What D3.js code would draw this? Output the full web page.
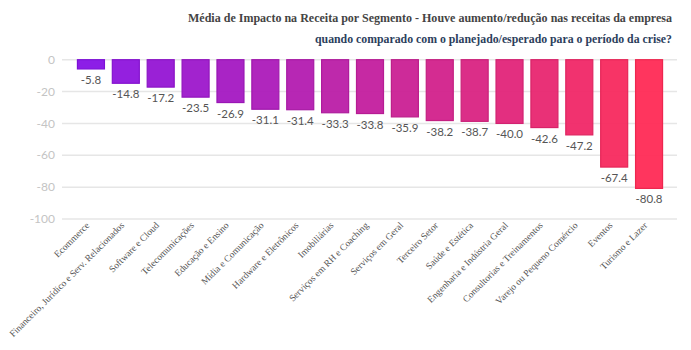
<!DOCTYPE html>
<meta charset="utf-8">
<script src="https://d3js.org/d3.v7.min.js"></script>
<style>
  body { margin: 0; background: #fff; }
</style>
<div id="my_dataviz"></div>
<script>

// data
var categories = ["Ecommerce", "Financeiro, Jurídico e Serv. Relacionados", "Software e Cloud",
  "Telecomunicações", "Educação e Ensino", "Mídia e Comunicação", "Hardware e Eletrônicos",
  "Imobiliárias", "Serviços em RH e Coaching", "Serviços em Geral", "Terceiro Setor",
  "Saúde e Estética", "Engenharia e Indústria Geral", "Consultorias e Treinamentos",
  "Varejo ou Pequeno Comércio", "Eventos", "Turismo e Lazer"];
var values = [-5.8, -14.8, -17.2, -23.5, -26.9, -31.1, -31.4, -33.3, -33.8, -35.9,
  -38.2, -38.7, -40.0, -42.6, -47.2, -67.4, -80.8];
var yTicks = [0, -20, -40, -60, -80, -100];
var titleLines = ["Média de Impacto na Receita por Segmento - Houve aumento/redução nas receitas da empresa",
  "quando comparado com o planejado/esperado para o período da crise?"];

var width = 691, height = 350;

var svg = d3.select("#my_dataviz")
  .append("svg")
    .attr("width", width)
    .attr("height", height);

// scales
var x = d3.scaleBand()
  .domain(categories)
  .range([73.5, 666.5])
  .paddingInner(0.226)
  .paddingOuter(0.113);

var y = d3.scaleLinear()
  .domain([-100, 0])
  .range([219, 59.7]);

var color = d3.scaleLinear()
  .domain([0, categories.length - 1])
  .range(["#8612e6", "#ff2a55"])
  .interpolate(d3.interpolateRgb);

// grid lines
svg.append("g")
  .selectAll("line")
  .data(yTicks)
  .enter()
  .append("line")
    .attr("x1", 62)
    .attr("x2", 677)
    .attr("y1", function(d) { return y(d); })
    .attr("y2", function(d) { return y(d); })
    .style("stroke", "#e6e6e6")
    .style("stroke-width", 1.5);

// y tick labels
svg.append("g")
  .selectAll("text")
  .data(yTicks)
  .enter()
  .append("text")
    .attr("x", 55)
    .attr("y", function(d) { return y(d); })
    .attr("dy", "0.35em")
    .attr("text-anchor", "end")
    .style("font-family", "Lato, 'Open Sans', sans-serif")
    .style("font-size", "12px")
    .style("fill", "#c4c4c4")
    .text(function(d) { return d; });

// bars
svg.append("g")
  .selectAll("rect")
  .data(values)
  .enter()
  .append("rect")
    .attr("x", function(d, i) { return x(categories[i]); })
    .attr("y", y(0))
    .attr("width", x.bandwidth())
    .attr("height", function(d) { return y(d) - y(0); })
    .style("fill", function(d, i) { return color(i); })
    .style("fill-opacity", 0.95)
    .style("stroke", function(d, i) { return d3.rgb(color(i)).darker(0.2); })
    .style("stroke-width", 1.2);

// value labels
svg.append("g")
  .selectAll("text")
  .data(values)
  .enter()
  .append("text")
    .attr("x", function(d, i) { return x(categories[i]) + x.bandwidth() / 2; })
    .attr("y", function(d) { return y(d) + 15; })
    .attr("text-anchor", "middle")
    .style("font-family", "Lato, 'Open Sans', sans-serif")
    .style("font-size", "11.5px")
    .style("fill", "#555")
    .text(function(d) { return d.toFixed(1); });

// category labels
svg.append("g")
  .selectAll("text")
  .data(categories)
  .enter()
  .append("text")
    .attr("transform", function(d) {
      return "translate(" + (x(d) + x.bandwidth() / 2 - 1) + ",226) rotate(-45)";
    })
    .attr("text-anchor", "end")
    .style("font-family", "'Liberation Serif', serif")
    .style("font-size", "9.5px")
    .style("fill", "#555")
    .text(function(d) { return d; });

// title
svg.append("text")
  .attr("x", 672)
  .attr("y", 22)
  .attr("text-anchor", "end")
  .attr("textLength", 484)
  .attr("lengthAdjust", "spacingAndGlyphs")
  .style("font-family", "'Liberation Serif', serif")
  .style("font-weight", "bold")
  .style("font-size", "12px")
  .style("fill", "#444")
  .text(titleLines[0]);

svg.append("text")
  .attr("x", 672)
  .attr("y", 43)
  .attr("text-anchor", "end")
  .attr("textLength", 357)
  .attr("lengthAdjust", "spacingAndGlyphs")
  .style("font-family", "'Liberation Serif', serif")
  .style("font-weight", "bold")
  .style("font-size", "12px")
  .style("fill", "#2c3e5c")
  .text(titleLines[1]);

</script>
